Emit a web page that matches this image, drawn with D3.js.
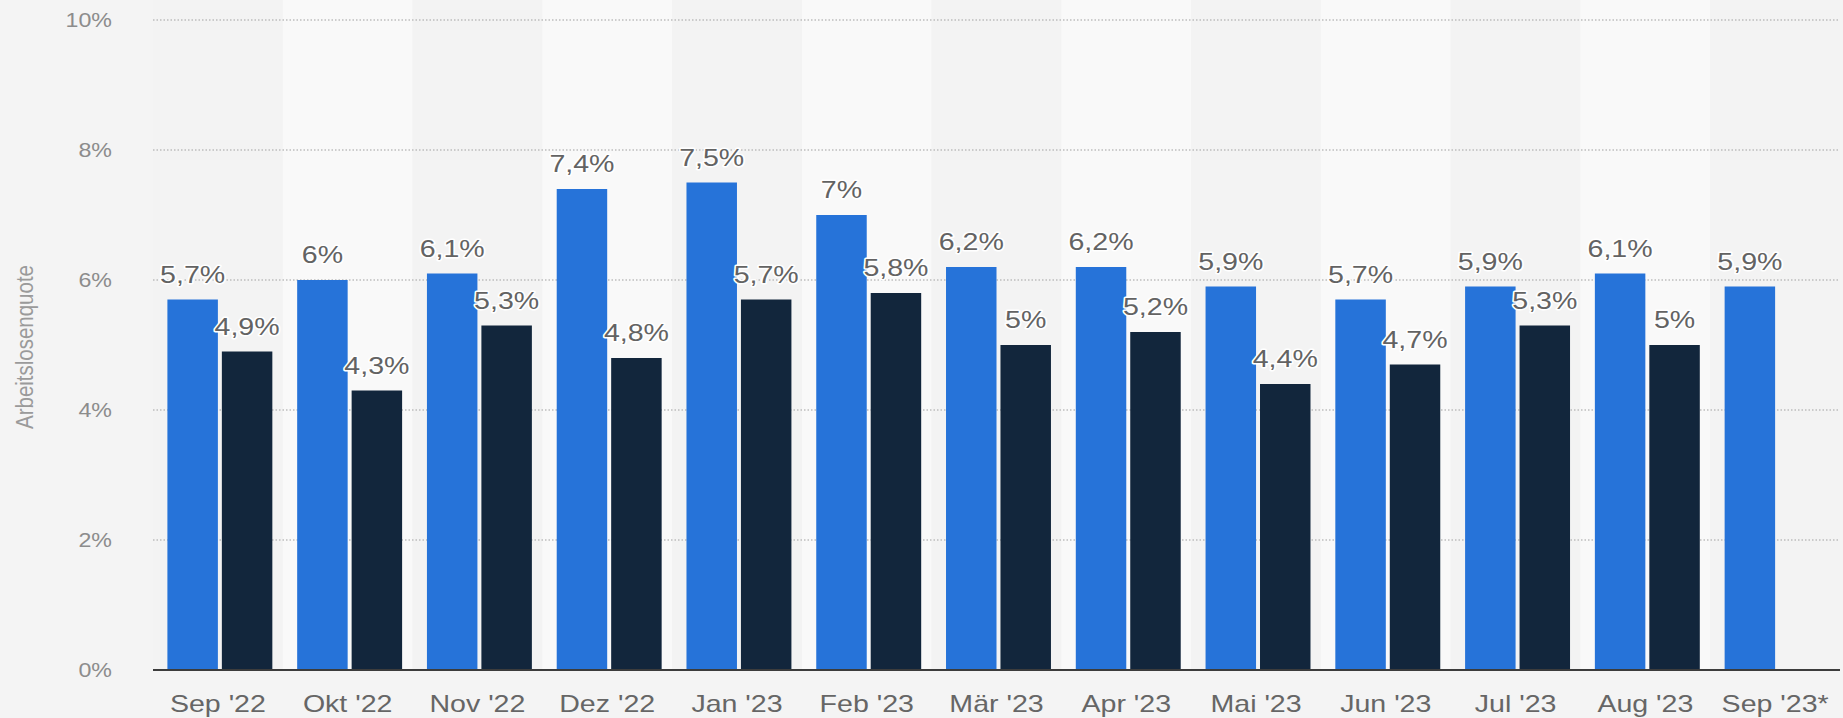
<!DOCTYPE html>
<html><head><meta charset="utf-8">
<script src="https://cdn.jsdelivr.net/npm/d3@7"></script>
<style>html,body{margin:0;padding:0;background:#f4f4f4;} svg{display:block;}</style>
</head><body>
<svg id="c" width="1843" height="718"></svg>
<script>
const categories = ["Sep '22","Okt '22","Nov '22","Dez '22","Jan '23","Feb '23","Mär '23","Apr '23","Mai '23","Jun '23","Jul '23","Aug '23","Sep '23*"];
const seriesNames = ["a","b"];
const seriesA = [5.7,6,6.1,7.4,7.5,7,6.2,6.2,5.9,5.7,5.9,6.1,5.9];
const seriesB = [4.9,4.3,5.3,4.8,5.7,5.8,5,5.2,4.4,4.7,5.3,5,null];
const yTicks = [0,2,4,6,8,10];
const yTitle = "Arbeitslosenquote";

const W = 1843, H = 718;
const M = {left:153, right:1840, top:20, bottom:670};
const SX = 1.19; // horizontal stretch of the reference text
const FONT = "'Liberation Sans', Arial, Helvetica, sans-serif";
const colors = {a:"#2673d9", b:"#12263c"};

const svg = d3.select("#c");
svg.append("rect").attr("width",W).attr("height",H).attr("fill","#f4f4f4");

const x = d3.scaleBand().domain(categories).range([M.left, M.right]).padding(0);
const xs = d3.scaleBand().domain(seriesNames).range([0, x.bandwidth()])
  .paddingInner(0.073).paddingOuter(0.228).align(0.58);
const y = d3.scaleLinear().domain([0,10]).range([M.bottom, M.top]);

function stext(g, tx, ty, str, opts){
  const gg = g.append("g").attr("transform", `translate(${tx},${ty}) scale(${SX},1)` + (opts.rotate ? ` rotate(${opts.rotate})` : ""));
  const t = gg.append("text").attr("x",0).attr("y",0)
    .attr("font-family", FONT).attr("font-size", opts.size)
    .attr("fill", opts.fill).attr("text-anchor", opts.anchor || "middle")
    .text(str);
  if (opts.dy) t.attr("dy", opts.dy);
  if (opts.halo){
    t.attr("stroke","#ffffff").attr("stroke-width",opts.halo).attr("paint-order","stroke").attr("stroke-linejoin","round");
  }
  return t;
}

// alternating band backgrounds
svg.append("g").selectAll("rect").data(categories).join("rect")
  .attr("x", d => x(d)).attr("y", 0)
  .attr("width", x.bandwidth()).attr("height", M.bottom)
  .attr("fill", (d,i) => i % 2 === 0 ? "#f3f3f3" : "#f9f9f9");

// gridlines
const grid = svg.append("g");
grid.selectAll("line").data(yTicks.filter(t => t > 0)).join("line")
  .attr("x1", M.left).attr("x2", M.right)
  .attr("y1", d => y(d)).attr("y2", d => y(d))
  .attr("stroke", "#bdbdbd").attr("stroke-width", 1.3).attr("stroke-dasharray", "1.5,2");

// y tick labels
const yl = svg.append("g");
yTicks.forEach(t => stext(yl, 112, y(t), t + "%", {size:19.5, fill:"#8c8c8c", anchor:"end", dy:"0.36em"}));

// y title
stext(svg.append("g"), 33, 347, yTitle, {size:20.5, fill:"#9a9a9a", anchor:"middle", rotate:-90});

// bars
const data = [];
categories.forEach((c,i) => {
  data.push({cat:c, s:"a", v:seriesA[i]});
  if (seriesB[i] != null) data.push({cat:c, s:"b", v:seriesB[i]});
});
svg.append("g").selectAll("rect").data(data).join("rect")
  .attr("x", d => x(d.cat) + xs(d.s))
  .attr("width", xs.bandwidth())
  .attr("y", d => y(d.v))
  .attr("height", d => y(0) - y(d.v))
  .attr("fill", d => colors[d.s]);

// baseline
svg.append("line").attr("x1", M.left).attr("x2", M.right)
  .attr("y1", y(0)).attr("y2", y(0)).attr("stroke", "#3c3c3c").attr("stroke-width", 2);

// value labels
const lg = svg.append("g");
data.forEach(d => {
  const cx = x(d.cat) + xs(d.s) + xs.bandwidth()/2;
  stext(lg, cx, y(d.v) - 17, String(d.v).replace(".", ",") + "%", {size:24, fill:"#636363", halo:3});
});

// category labels
const cl = svg.append("g");
categories.forEach(c => stext(cl, x(c) + x.bandwidth()/2, 712, c, {size:24, fill:"#666666"}));
</script>
</body></html>
